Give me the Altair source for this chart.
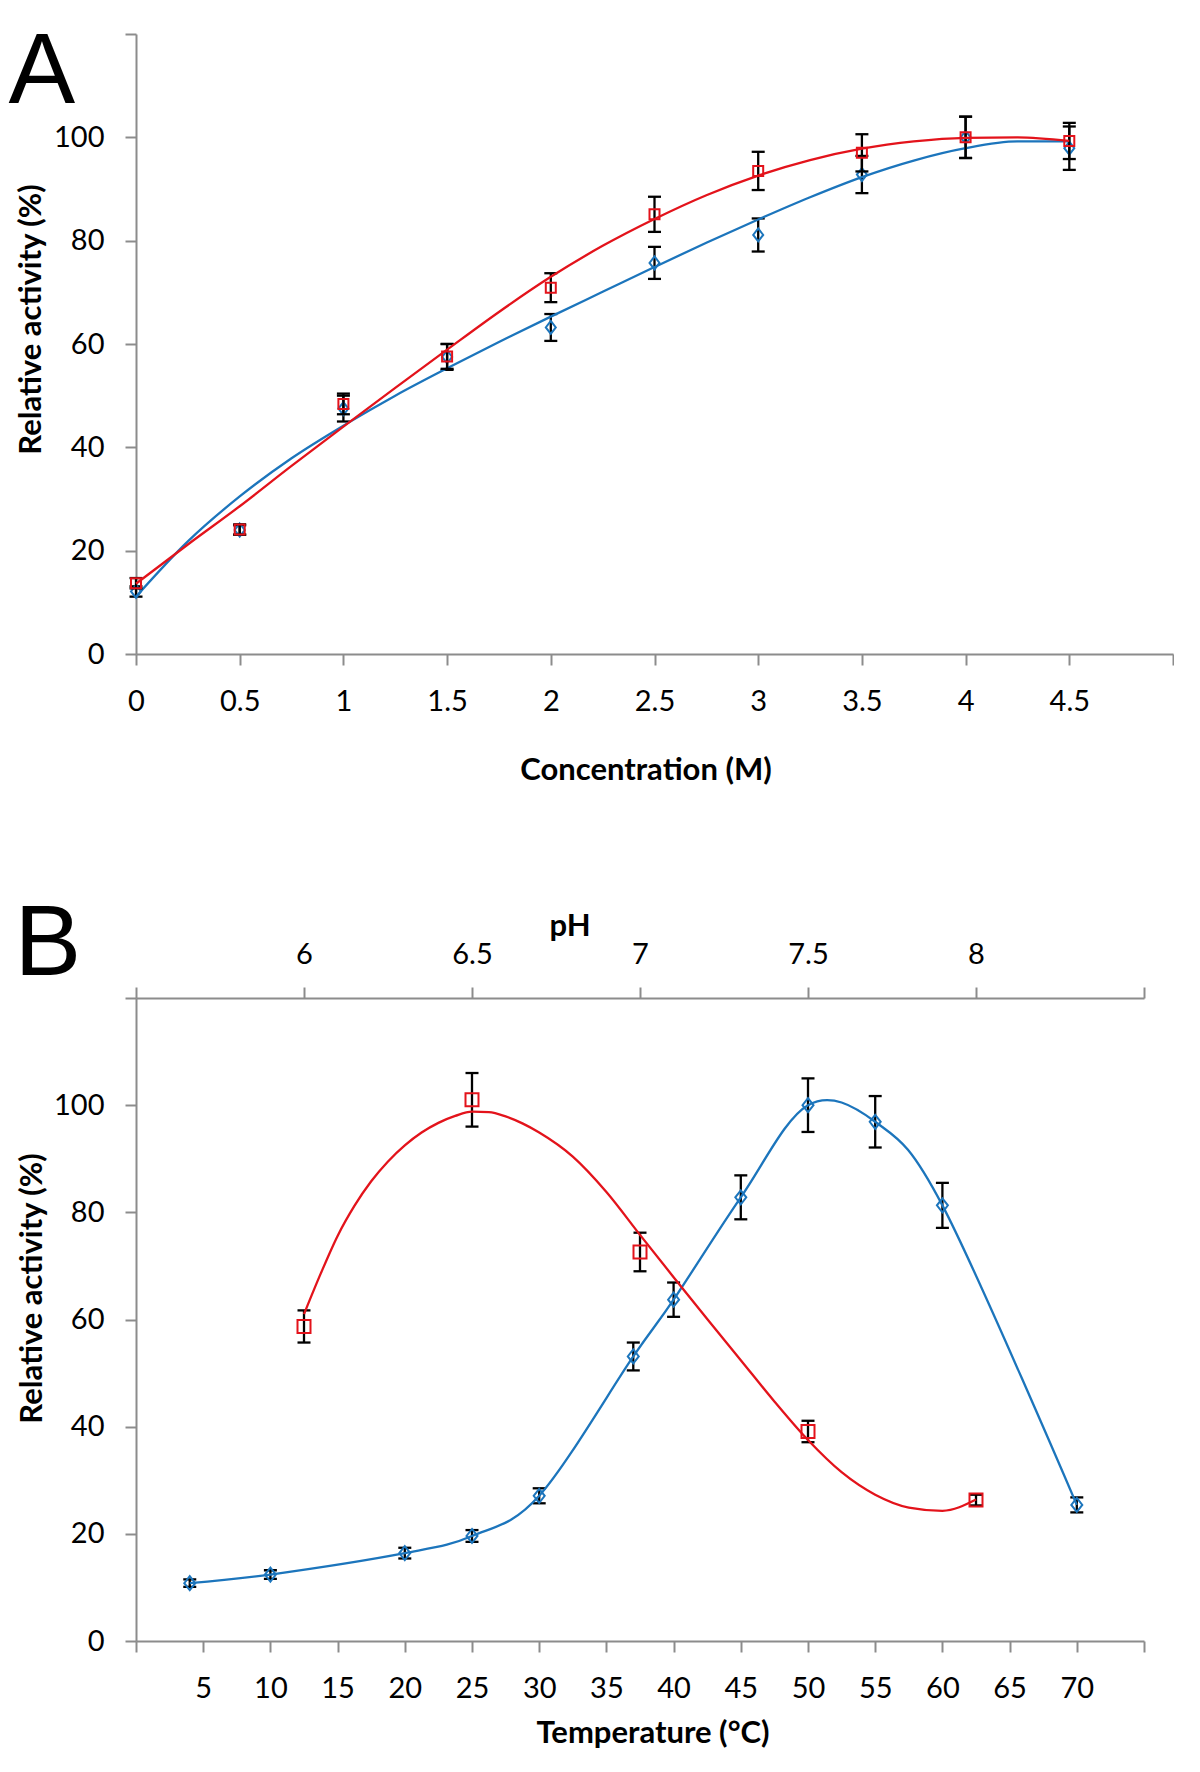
import altair as alt
import pandas as pd

# ---------------- Panel A : concentration ----------------
conc = [0, 0.5, 1, 1.5, 2, 2.5, 3, 3.5, 4, 4.5]
red_a = [13.7, 24.1, 48.4, 57.6, 70.9, 85.1, 93.5, 97.0, 100.0, 99.3]
red_a_err = [1.0, 1.0, 2.0, 2.4, 2.8, 3.4, 3.7, 3.6, 4.0, 3.5]
blue_a = [12.1, 24.0, 47.5, 57.5, 63.2, 75.7, 81.1, 92.8, 100.0, 97.9]
blue_a_err = [1.0, 0.9, 2.5, 2.5, 2.6, 3.1, 3.2, 3.6, 4.0, 4.2]

# fitted curves
curve_conc = [0, 0.25, 0.5, 0.75, 1, 1.25, 1.5, 1.75, 2, 2.25, 2.5, 2.75,
              3, 3.25, 3.5, 3.75, 4, 4.25, 4.5]
red_a_curve = [13.6, 21.2, 28.6, 36.4, 44.0, 51.5, 58.9, 66.2, 73.0, 79.0,
               84.2, 88.8, 92.6, 95.6, 97.8, 99.2, 99.9, 100.0, 99.3]
blue_a_curve = [11.1, 21.8, 30.5, 37.9, 44.2, 50.0, 55.3, 60.4, 65.3, 70.1,
                74.9, 79.6, 84.1, 88.4, 92.3, 95.5, 97.9, 99.2, 99.2]

# ---------------- Panel B : temperature / pH ----------------
temp = [4, 10, 20, 25, 30, 37, 40, 45, 50, 55, 60, 70]
blue_b = [10.8, 12.4, 16.4, 19.6, 27.1, 53.1, 63.7, 82.8, 100.0, 96.9, 81.3, 25.4]
blue_b_err = [0.7, 0.8, 1.0, 1.1, 1.4, 2.6, 3.2, 4.1, 5.0, 4.8, 4.2, 1.4]

ph = [6.0, 6.5, 7.0, 7.5, 8.0]
red_b = [58.7, 101.0, 72.6, 39.1, 26.3]
red_b_err = [3.0, 5.0, 3.6, 2.0, 1.0]

curve_ph = [6.0, 6.05, 6.1, 6.15, 6.2, 6.25, 6.3, 6.35, 6.4, 6.45, 6.5, 6.55,
            6.6, 6.65, 6.7, 6.8, 6.9, 7.0, 7.1, 7.2, 7.3, 7.4, 7.5, 7.6, 7.7,
            7.8, 7.9, 8.0]
red_b_curve = [61.0, 68.6, 75.6, 81.2, 85.8, 89.5, 92.5, 94.9, 96.7, 98.0, 98.8,
               98.7, 97.9, 96.6, 94.9, 90.4, 83.8, 75.8, 67.9, 60.1, 52.4, 44.7,
               37.5, 31.5, 27.3, 24.9, 24.3, 26.4]

RED = "#E3131B"
BLUE = "#1C75BC"
AXIS_GREY = "#8c8c8c"
DIAMOND = "M0,-1.3L1,0L0,1.3L-1,0Z"
LETTER_FONT = "Liberation Sans Narrow, Liberation Sans, sans-serif"


def pts_df(xname, xs, ys, errs):
    return pd.DataFrame({
        xname: xs,
        "v": ys,
        "lo": [y - e for y, e in zip(ys, errs)],
        "hi": [y + e for y, e in zip(ys, errs)],
    })


yscale = alt.Scale(domain=[0, 120], nice=False, zero=False)


def y_axis(tx, ty):
    return alt.Axis(values=[0, 20, 40, 60, 80, 100, 120],
                    labelExpr="datum.value > 100 ? '' : datum.label",
                    title="Relative activity (%)", titleX=tx, titleY=ty,
                    titleBaseline="middle", titleAlign="center",
                    labelPadding=21, labelFlush=False, labelOverlap=False)


def series(df, xenc, yaxis, color, shape, size, line_df=None, interp="monotone"):
    yv = alt.Y("v:Q", scale=yscale, axis=yaxis)
    layers = []
    layers.append(alt.Chart(df).mark_rule(color="black", strokeWidth=2.3).encode(
        x=xenc, y=alt.Y("lo:Q", scale=yscale, axis=yaxis), y2="hi:Q"))
    for col in ["lo", "hi"]:
        layers.append(alt.Chart(df).mark_tick(
            orient="horizontal", size=13, thickness=2.3, color="black", opacity=1
        ).encode(x=xenc, y=alt.Y(col + ":Q", scale=yscale, axis=yaxis)))
    ldf = line_df if line_df is not None else df
    layers.append(alt.Chart(ldf).mark_line(
        color=color, strokeWidth=2.3, interpolate=interp
    ).encode(x=xenc, y=yv))
    layers.append(alt.Chart(df).mark_point(
        shape=shape, size=size, filled=False, strokeWidth=2, color=color, opacity=1
    ).encode(x=xenc, y=yv))
    return layers


def letter(t, x, y):
    return alt.Chart(pd.DataFrame({"t": [t]})).mark_text(
        font=LETTER_FONT, fontSize=100, align="left", baseline="alphabetic",
        color="black"
    ).encode(text="t:N", x=alt.value(x), y=alt.value(y))


# ---------- panel A ----------
xA = alt.X("c:Q", scale=alt.Scale(domain=[0, 5], nice=False, zero=False),
           axis=alt.Axis(values=[0, 0.5, 1, 1.5, 2, 2.5, 3, 3.5, 4, 4.5, 5],
                         labelExpr="datum.value > 4.75 ? '' : format(datum.value, '~g')",
                         title="Concentration (M)", titleX=509.5, titleY=116,
                         titleBaseline="middle", titleAlign="center",
                         labelPadding=22, labelFlush=False, labelOverlap=False))
yA = y_axis(-105, 285)

redA = pts_df("c", conc, red_a, red_a_err)
blueA = pts_df("c", conc, blue_a, blue_a_err)
redA_line = pd.DataFrame({"c": curve_conc, "v": red_a_curve})
blueA_line = pd.DataFrame({"c": curve_conc, "v": blue_a_curve})

layersA = (series(blueA, xA, yA, BLUE, DIAMOND, 100, blueA_line)
           + series(redA, xA, yA, RED, "square", 100, redA_line))
panelA = alt.layer(*layersA, letter("A", -127.5, 68.8)).properties(width=1037, height=620)

# ---------- panel B ----------
xT = alt.X("t:Q", scale=alt.Scale(domain=[0, 75], nice=False, zero=False),
           axis=alt.Axis(values=list(range(0, 80, 5)),
                         labelExpr="datum.value < 1 || datum.value > 72 ? '' : datum.label",
                         title="Temperature (°C)", titleX=516.5, titleY=92,
                         titleBaseline="middle", titleAlign="center",
                         labelPadding=22, labelFlush=False, labelOverlap=False))
xP = alt.X("p:Q", scale=alt.Scale(domain=[5.5, 8.5], nice=False, zero=False),
           axis=alt.Axis(orient="top", values=[5.5, 6, 6.5, 7, 7.5, 8, 8.5],
                         labelExpr="datum.value < 5.9 || datum.value > 8.1 ? '' : format(datum.value, '~g')",
                         title="pH", titleX=433.5, titleY=-72,
                         titleBaseline="middle", titleAlign="center",
                         labelPadding=18, labelFlush=False, labelOverlap=False))
yB = y_axis(-103.5, 290)

blueB = pts_df("t", temp, blue_b, blue_b_err)
redB = pts_df("p", ph, red_b, red_b_err)
redB_line = pd.DataFrame({"p": curve_ph, "v": red_b_curve})

DIAMOND_B = "M0,-1.27L1,0L0,1.27L-1,0Z"
blue_group = alt.layer(*series(blueB, xT, yB, BLUE, DIAMOND_B, 121, None, "cardinal"))
red_group = alt.layer(*series(redB, xP, yB, RED, "square", 169, redB_line))

panelB = alt.layer(blue_group, red_group, letter("B", -121.5, -22.7)).resolve_scale(
    x="independent").properties(width=1008, height=643)

chart = alt.vconcat(panelA, panelB, spacing=344, bounds="flush").properties(
    padding={"top": 12, "left": 0, "right": 0, "bottom": 0}
).configure_axis(
    domainColor=AXIS_GREY, domainWidth=2, tickColor=AXIS_GREY, tickWidth=2,
    tickSize=11, labelFont="Lato", labelFontSize=29, labelColor="black",
    titleFont="Lato", titleFontSize=31, titleFontWeight="bold", titleColor="black",
    grid=False
).configure_view(stroke=None)

chart.save("out.html", embed_options={"renderer": "svg", "actions": False})
